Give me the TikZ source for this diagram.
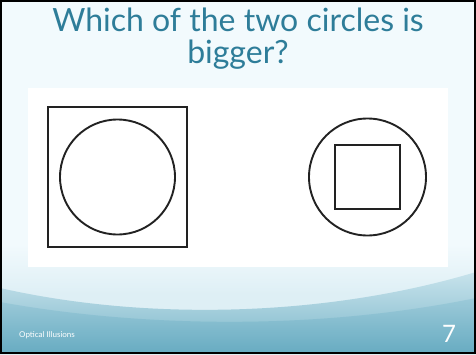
\documentclass[tikz,border=0pt]{standalone}
\usepackage{fontspec}
\setmainfont{Lato}
\definecolor{titleteal}{RGB}{46,125,153}
\definecolor{bgtop}{RGB}{242,250,253}
\definecolor{bandlight}{RGB}{222,239,245}
\definecolor{waveA}{RGB}{200,227,236}
\definecolor{waveAb}{RGB}{120,181,200}
\definecolor{waveB}{RGB}{150,199,215}
\definecolor{waveBb}{RGB}{98,168,191}
\definecolor{ink}{RGB}{34,34,34}
\tikzset{
  figline/.style={draw=ink, line width=1.9pt},
  foot/.style={text=white, inner sep=0pt, anchor=base west}
}
\begin{document}
\begin{tikzpicture}[x=1pt,y=1pt]
\useasboundingbox (0,0) rectangle (476,354);
% background
\fill[bgtop] (0,0) rectangle (476,354);
\shade[top color=bgtop, bottom color=bandlight] (0,60) rectangle (476,110);
\fill[bandlight] (0,0) rectangle (476,60);
% waves
\shade[top color=waveA, bottom color=waveAb]
  (0,66) .. controls (150,32) and (330,38) .. (476,82) -- (476,0) -- (0,0) -- cycle;
\shade[top color=waveB, bottom color=waveBb, opacity=0.75]
  (0,52) .. controls (120,30) and (300,20) .. (476,56) -- (476,0) -- (0,0) -- cycle;
% white panel
\fill[white] (28,87) rectangle (448,266);
% title
\node[text=titleteal, font=\fontsize{32}{34}\selectfont, anchor=base] (t1) at (238,322) {Which of the two circles is};
\node[text=titleteal, font=\fontsize{32}{34}\selectfont, anchor=base] (t2) at (238,290) {bigger?};
% left figure
\node[figline, minimum width=139pt, minimum height=140pt, inner sep=0pt] (lsq) at (117.5,177) {};
\node[figline, circle, minimum size=115pt, inner sep=0pt] (lci) at (117.5,177) {};
% right figure
\node[figline, circle, minimum size=117pt, inner sep=0pt] (rci) at (367.5,177) {};
\node[figline, minimum width=65pt, minimum height=64pt, inner sep=0pt] (rsq) at (367.5,177) {};
% footer
\node[foot, font=\fontsize{8}{10}\selectfont] (ft) at (19,17) {Optical Illusions};
\node[foot, font=\fontsize{24}{26}\selectfont] (pg) at (442,12) {7};
% frame
\draw[black, line width=2pt] (1,1) rectangle (475,353);
\end{tikzpicture}
\end{document}
